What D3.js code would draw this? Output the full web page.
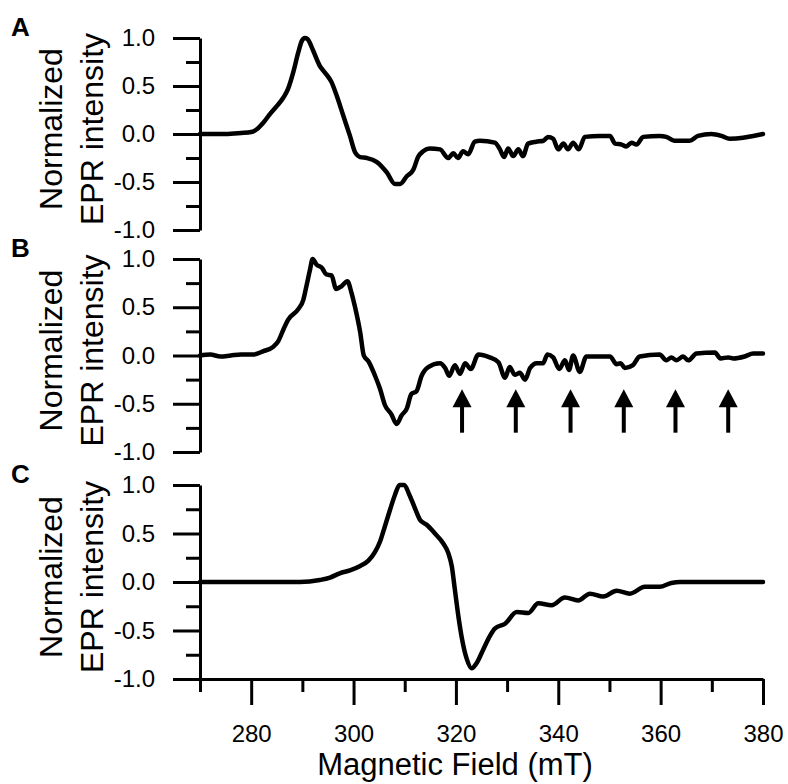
<!DOCTYPE html>
<html>
<head>
<meta charset="UTF-8">
<title>Normalized EPR spectra</title>
<script src="https://d3js.org/d3.v7.min.js"></script>
<style>
  body { margin: 0; background: #ffffff; }
  svg text { font-family: "Liberation Sans", Arial, sans-serif; fill: #000; }
</style>
</head>
<body>
<div id="chart"></div>
<script>
// magnetic field (mT) and normalized intensity
var fieldA = [270, 275, 278, 280, 281.1, 282.4, 283.7, 285.0, 286.3, 287.2, 288.2, 289.2, 289.9, 290.5,
  291.0, 292.1, 293.4, 294.4, 295.7, 296.7, 298.0, 299.3, 300.3, 301.3, 302.6, 304.5, 306.5, 308.1,
  309.1, 310.4, 311.7, 312.6, 313.6, 314.9, 316.9, 318.5, 319.5, 320.4, 321.4, 322.4, 323.7, 324.7,
  327.6, 328.6, 329.4, 330.2, 331.2, 332.2, 333.1, 334.1, 335.7, 337.1, 338.0, 339.0, 340.0, 341.0,
  341.9, 342.9, 344.0, 345.2, 348.1, 350.1, 351.1, 352.4, 353.3, 354.3, 355.3, 356.6, 359.8, 361.1,
  362.7, 365.7, 367.3, 369.9, 371.9, 373.5, 376.1, 378.1, 380];
var intensityA = [0, 0, 0.01, 0.02, 0.05, 0.12, 0.21, 0.29, 0.38, 0.47, 0.64, 0.85, 0.97, 1.0,
  0.99, 0.87, 0.71, 0.64, 0.54, 0.40, 0.19, -0.02, -0.19, -0.24, -0.25, -0.29, -0.40, -0.52,
  -0.52, -0.44, -0.37, -0.24, -0.18, -0.15, -0.16, -0.25, -0.20, -0.25, -0.18, -0.21, -0.08, -0.07,
  -0.09, -0.16, -0.24, -0.15, -0.23, -0.16, -0.23, -0.10, -0.08, -0.07, -0.03, -0.05, -0.16, -0.10,
  -0.16, -0.09, -0.16, -0.03, -0.02, -0.02, -0.10, -0.11, -0.13, -0.09, -0.11, -0.03, -0.02, -0.03,
  -0.07, -0.07, -0.02, 0.00, -0.02, -0.05, -0.04, -0.02, 0.00];

var fieldB = [270, 272, 274, 276, 278, 280.4, 282.4, 284.3, 285.3, 286.3, 287.2, 289.2, 290.2, 290.8,
  291.5, 292.0, 292.8, 293.8, 294.7, 295.7, 296.6, 297.7, 298.8, 299.6, 300.3, 301.3, 302.0, 302.9,
  304.2, 305.2, 306.1, 307.4, 308.4, 309.4, 310.4, 311.3, 312.3, 313.3, 314.6, 316.9, 317.9, 318.7,
  319.8, 320.8, 321.8, 322.9, 324.4, 326.6, 328.3, 329.6, 330.5, 331.5, 332.5, 333.5, 334.5, 335.8,
  337.0, 337.9, 339.0, 340.2, 341.3, 342.1, 342.9, 344.2, 345.5, 350.1, 351.4, 352.2, 353.0, 354.6,
  355.9, 359.8, 361.1, 362.1, 363.1, 364.4, 365.4, 367.0, 370.6, 371.7, 373.2, 374.2, 376.4, 378.1, 380];
var intensityB = [0.0, 0.01, -0.01, 0.0, 0.01, 0.01, 0.045, 0.09, 0.15, 0.27, 0.37, 0.48, 0.58, 0.72,
  0.89, 1.0, 0.94, 0.91, 0.84, 0.83, 0.69, 0.72, 0.77, 0.65, 0.50, 0.24, 0.0, -0.06,
  -0.21, -0.35, -0.51, -0.61, -0.71, -0.62, -0.55, -0.40, -0.37, -0.21, -0.12, -0.08, -0.13, -0.21,
  -0.10, -0.19, -0.08, -0.14, 0.01, -0.02, -0.07, -0.23, -0.12, -0.20, -0.18, -0.25, -0.13, -0.08,
  -0.08, 0.01, -0.02, -0.14, -0.05, -0.15, 0.0, -0.17, -0.01, -0.01, -0.09, -0.08, -0.13, -0.10,
  -0.01, 0.01, -0.05, -0.02, -0.05, -0.01, -0.05, 0.02, 0.03, -0.03, -0.02, -0.03, -0.01, 0.02, 0.02];

var fieldC = [270, 280, 289.5, 293.4, 295.4, 297.3, 299.3, 301.3, 302.9, 304.2, 305.2, 306.1, 307.1,
  308.1, 309.0, 309.9, 310.9, 312.0, 313.0, 314.3, 315.9, 317.5, 318.5, 319.2, 319.8, 320.5, 321.1,
  322.1, 323.1, 324.0, 325.3, 326.6, 327.6, 329.6, 331.9, 334.1, 336.1, 338.7, 341.3, 343.9, 346.2,
  348.8, 351.4, 354.0, 356.9, 359.8, 362.1, 363.8, 370, 380];
var intensityC = [0, 0, 0, 0.02, 0.045, 0.09, 0.12, 0.165, 0.22, 0.31, 0.42, 0.57, 0.74,
  0.90, 1.0, 1.0, 0.90, 0.76, 0.64, 0.59, 0.50, 0.40, 0.30, 0.16, -0.08, -0.36, -0.56,
  -0.79, -0.89, -0.84, -0.70, -0.56, -0.48, -0.43, -0.31, -0.32, -0.22, -0.24, -0.16, -0.19, -0.12,
  -0.15, -0.09, -0.12, -0.05, -0.05, -0.01, 0, 0, 0];

// arrows under the hyperfine lines in panel B
var arrowField = [321.2, 331.7, 342.4, 352.8, 362.9, 373.2];
var arrowTip = -0.35, arrowBase = -0.80;

// ticks
var xMajor = [280, 300, 320, 340, 360, 380];
var xMinor = [270, 290, 310, 330, 350, 370];
var yMajor = [-1.0, -0.5, 0.0, 0.5, 1.0];
var yMinor = [-0.75, -0.25, 0.25, 0.75];

var panelLabels = ["A", "B", "C"];
var panelTop = [38, 259, 485];
var panelBottom = [230, 452, 679];

var width = 788, height = 784;
var left = 200, right = 763;

var svg = d3.select("#chart").append("svg")
    .attr("width", width)
    .attr("height", height);

var xScale = d3.scaleLinear().domain([270, 380]).range([left, right]);

var series = [
  d3.zip(fieldA, intensityA),
  d3.zip(fieldB, intensityB),
  d3.zip(fieldC, intensityC)
];

function styleAxis(g, size) {
  g.attr("font-size", size);
  g.selectAll("path, line").attr("stroke", "#000").attr("stroke-width", 3);
  g.selectAll("text").attr("fill", "#000");
}

series.forEach(function(data, i) {
  var yScale = d3.scaleLinear().domain([-1, 1]).range([panelBottom[i], panelTop[i]]);
  var g = svg.append("g");

  // minor y ticks
  g.append("g")
      .attr("transform", "translate(" + left + ",0)")
      .call(d3.axisLeft(yScale).tickValues(yMinor).tickSize(14).tickFormat(""))
      .call(function(a) { a.select(".domain").remove(); styleAxis(a, 24); });

  // major y ticks with labels
  g.append("g")
      .attr("transform", "translate(" + left + ",0)")
      .call(d3.axisLeft(yScale).tickValues(yMajor).tickSize(27).tickSizeOuter(0)
          .tickPadding(18).tickFormat(function(d) { return d.toFixed(1); }))
      .call(function(a) { styleAxis(a, 24); });

  // y axis title, two lines
  var cy = (panelTop[i] + panelBottom[i]) / 2 - 5;
  g.append("text")
      .attr("transform", "translate(62," + cy + ") rotate(-90)")
      .attr("text-anchor", "middle")
      .attr("font-size", 32)
      .text("Normalized");
  g.append("text")
      .attr("transform", "translate(103," + cy + ") rotate(-90)")
      .attr("text-anchor", "middle")
      .attr("font-size", 32)
      .text("EPR intensity");

  // panel letter
  g.append("text")
      .attr("x", 11)
      .attr("y", panelTop[i] - 2)
      .attr("font-size", 26)
      .attr("font-weight", "bold")
      .text(panelLabels[i]);

  // spectrum
  var line = d3.line()
      .x(function(d) { return xScale(d[0]); })
      .y(function(d) { return yScale(d[1]); })
      .curve(d3.curveMonotoneX);

  g.append("path")
      .datum(data)
      .attr("d", line)
      .attr("fill", "none")
      .attr("stroke", "#000")
      .attr("stroke-width", 4.5)
      .attr("stroke-linejoin", "round")
      .attr("stroke-linecap", "round");

  // arrows in B
  if (i === 1) {
    var arrows = g.selectAll(".arrow").data(arrowField).enter().append("g").attr("class", "arrow");
    arrows.append("line")
        .attr("x1", function(d) { return xScale(d); })
        .attr("x2", function(d) { return xScale(d); })
        .attr("y1", yScale(arrowBase))
        .attr("y2", yScale(arrowTip) + 12)
        .attr("stroke", "#000")
        .attr("stroke-width", 4);
    arrows.append("path")
        .attr("d", function(d) {
          var x = xScale(d), y = yScale(arrowTip);
          return "M" + x + "," + y + "L" + (x + 9.5) + "," + (y + 18) + "L" + (x - 9.5) + "," + (y + 18) + "Z";
        })
        .attr("fill", "#000");
  }

  // x axis only under the last panel
  if (i === 2) {
    var xg = g.append("g").attr("transform", "translate(0," + panelBottom[i] + ")");
    xg.append("g")
        .call(d3.axisBottom(xScale).tickValues(xMinor).tickSize(13).tickFormat(""))
        .call(function(a) { a.select(".domain").remove(); styleAxis(a, 24); });
    xg.append("g")
        .call(d3.axisBottom(xScale).tickValues(xMajor).tickSize(26).tickSizeOuter(0).tickPadding(20))
        .call(function(a) { styleAxis(a, 24); });

    svg.append("text")
        .attr("x", 455)
        .attr("y", 775)
        .attr("text-anchor", "middle")
        .attr("font-size", 31)
        .text("Magnetic Field (mT)");
  }
});
</script>
</body>
</html>
